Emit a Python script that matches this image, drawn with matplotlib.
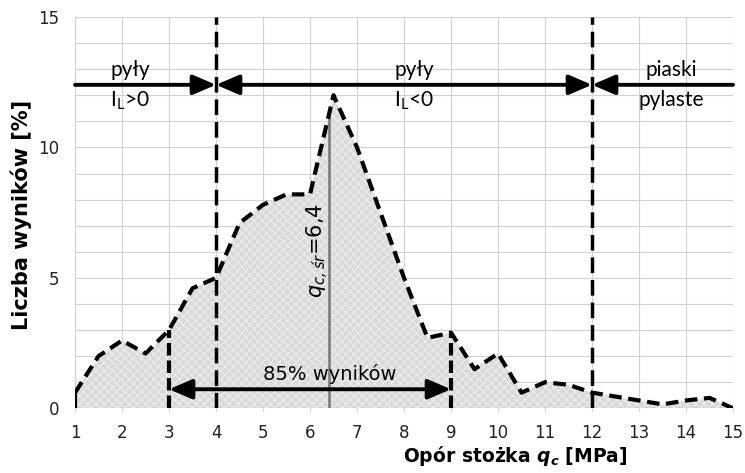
import numpy as np
import matplotlib
matplotlib.use("Agg")
import matplotlib.pyplot as plt

# Rozkład oporu stożka qc dla pyłów i piasków pylastych
q_c = [1.0, 1.5, 2.0, 2.5, 3.0, 3.5, 4.0, 4.5, 5.0, 5.5, 6.0, 6.5, 7.0, 7.5,
       8.0, 8.5, 9.0, 9.5, 10.0, 10.5, 11.0, 11.5, 12.0, 12.5, 13.0, 13.5,
       14.0, 14.5, 15.0]
share = [0.6, 2.0, 2.6, 2.1, 3.0, 4.6, 5.0, 7.1, 7.8, 8.2, 8.2, 12.0, 10.0,
         7.5, 5.0, 2.7, 2.9, 1.5, 2.1, 0.6, 1.0, 0.9, 0.6, 0.45, 0.3, 0.15,
         0.3, 0.4, 0.0]

q_mean = 6.4
range_85 = (3.0, 9.0)
soil_bounds = [4.0, 12.0]
soil_labels = [("pyły", r"I$_{\mathregular{L}}$>0"),
               ("pyły", r"I$_{\mathregular{L}}$<0"),
               ("piaski", "pylaste")]
soil_label_x = [2.17, 8.21, 13.68]
x_ticks = list(range(1, 16))
y_ticks = [0, 5, 10, 15]

plt.rcParams["mathtext.fontset"] = "custom"
plt.rcParams["mathtext.it"] = "DejaVu Sans:bold:italic"
plt.rcParams["mathtext.bf"] = "DejaVu Sans:bold"
plt.rcParams["mathtext.rm"] = "DejaVu Sans"
plt.rcParams["mathtext.sf"] = "DejaVu Sans:italic"
plt.rcParams["hatch.linewidth"] = 0.7

fig = plt.figure(figsize=(7.45, 4.73), dpi=100)
ax = fig.add_axes([0.1007, 0.1368, 0.8832, 0.8273])
ax.set_xlim(1, 15)
ax.set_ylim(0, 15)

# siatka co 1 jednostkę
ax.set_xticks(x_ticks)
ax.set_yticks(y_ticks)
ax.set_yticks(range(0, 16), minor=True)
ax.grid(True, which="both", color="#d2d2d2", lw=0.8, zorder=0)
ax.set_axisbelow(True)
for s in ax.spines.values():
    s.set_visible(False)
ax.tick_params(axis="x", length=3, color="#d2d2d2", pad=8, labelsize=12,
               labelcolor="#222222")
ax.tick_params(axis="y", which="both", length=0, pad=11, labelsize=12,
               labelcolor="#222222")

# pole pod krzywą
ax.fill_between(q_c, share, 0, facecolor="#d9d9d9", hatch="xxxx",
                edgecolor="#eeeeee", lw=0, zorder=1)
ax.plot(q_c, share, color="black", lw=3, ls=(0, (3, 1.6)), zorder=4)
ax.plot([q_c[0], q_c[-1]], [0, 0], color="black", lw=0.8, ls=(0, (9, 4.5)),
        zorder=4)
ax.plot([q_c[0], q_c[0]], [0, share[0]], color="black", lw=3, zorder=4)

# granice 85% wyników
for xb in range_85:
    yb = share[q_c.index(xb)]
    ax.plot([xb, xb], [0, yb], color="black", lw=3, ls=(0, (3, 1.2)), zorder=4)

# granice rodzajów gruntu
for xb in soil_bounds:
    ax.plot([xb, xb], [0, 15], color="black", lw=2.5, ls=(0, (4.5, 2)),
            zorder=4)

# wartość średnia
ax.plot([q_mean, q_mean], [0, np.interp(q_mean, q_c, share)],
        color="#808080", lw=2, zorder=3)
ax.text(q_mean - 0.23, 6.05, r"$\mathsf{q}_{\mathsf{c,śr}}$=6,4",
        rotation=90, ha="center", va="center", fontsize=15, zorder=5)

# strzałki zakresów gruntu
y_arr = 12.4
head = "head_length=1.4,head_width=0.6"
arr = dict(color="black", lw=2.8, shrinkA=0, shrinkB=0)
edges = [1.0] + soil_bounds + [15.0]
ax.annotate("", xy=(edges[1], y_arr), xytext=(edges[0], y_arr),
            arrowprops=dict(arrowstyle="-|>," + head, **arr), zorder=5)
ax.annotate("", xy=(edges[2], y_arr), xytext=(edges[1], y_arr),
            arrowprops=dict(arrowstyle="<|-|>," + head, **arr), zorder=5)
ax.annotate("", xy=(edges[2], y_arr), xytext=(edges[3], y_arr),
            arrowprops=dict(arrowstyle="-|>," + head, **arr), zorder=5)

for xl, (top, bottom) in zip(soil_label_x, soil_labels):
    ax.text(xl, 12.98, top, ha="center", va="center", fontsize=15,
            family="Lato", zorder=5)
    ax.text(xl, 11.8, bottom, ha="center", va="center", fontsize=15,
            family="Lato", zorder=5)

# zakres 85% wyników
ax.annotate("", xy=(range_85[1], 0.73), xytext=(range_85[0], 0.73),
            arrowprops=dict(arrowstyle="<|-|>," + head, **arr), zorder=5)
ax.text(6.43, 1.3, "85% wyników", ha="center", va="center", fontsize=14,
        zorder=5)

ax.set_xlabel("Opór stożka $q_c$ [MPa]", fontsize=13.5, fontweight="bold",
              va="center")
ax.xaxis.set_label_coords(0.669, -0.122)
ax.set_ylabel("Liczba wyników [%]", fontsize=15, fontweight="bold",
              va="center")
ax.yaxis.set_label_coords(-0.082, 0.494)

fig.savefig("out.png", dpi=100)
